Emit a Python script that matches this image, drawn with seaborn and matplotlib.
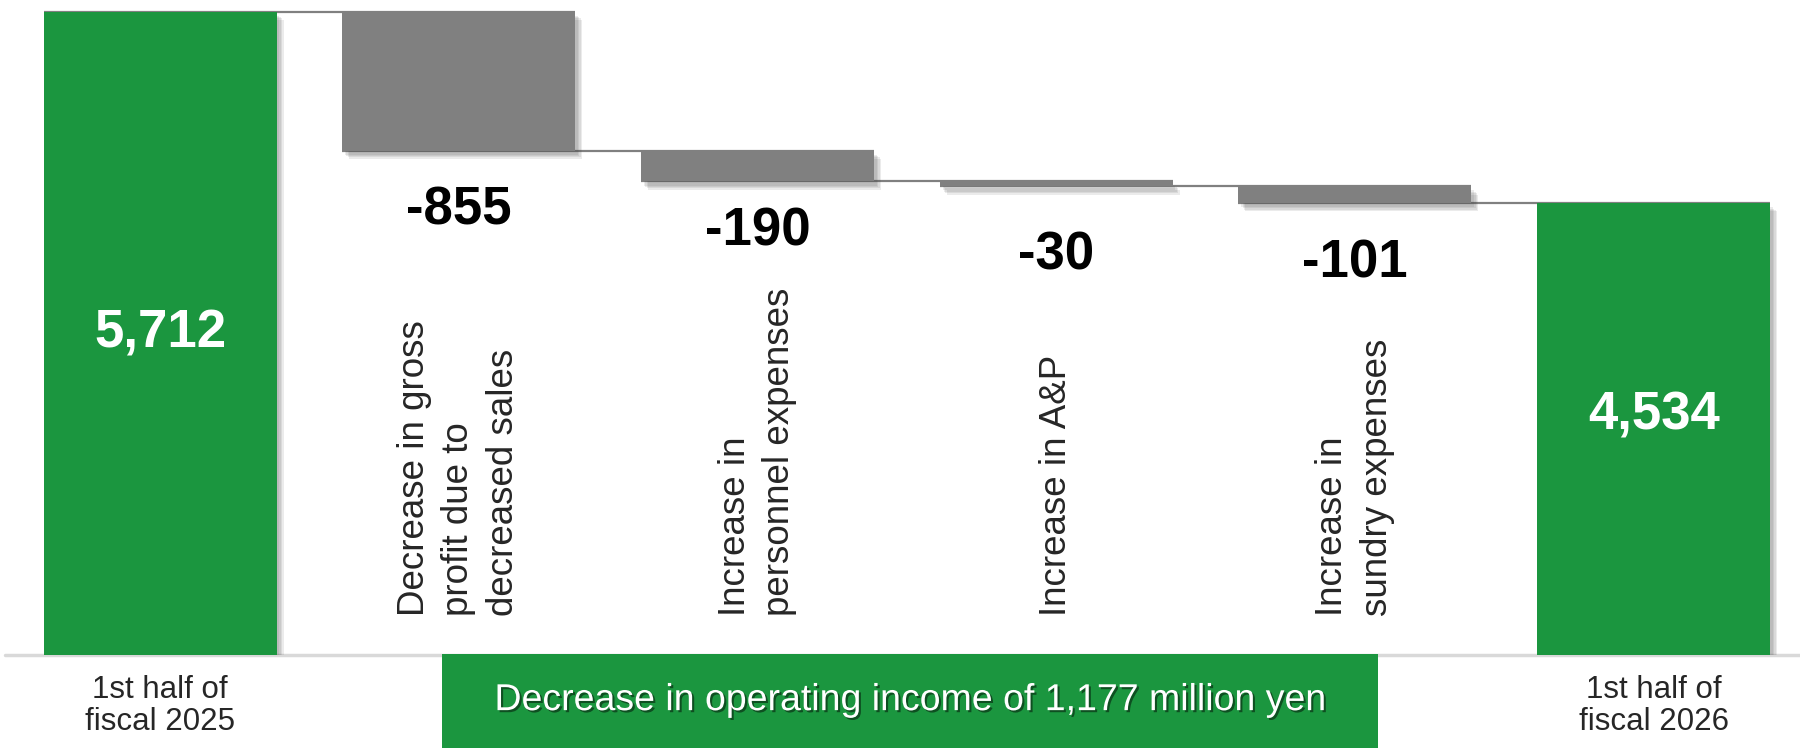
import matplotlib
matplotlib.use("Agg")
import matplotlib.pyplot as plt
import matplotlib.patheffects as pe
import matplotlib.transforms as mtransforms
from matplotlib.patches import Rectangle
import seaborn as sns
import numpy as np
import pandas as pd

# chart data (million yen)
steps = ["1st half of\nfiscal 2025",
         "Decrease in gross\nprofit due to\ndecreased sales",
         "Increase in\npersonnel expenses",
         "Increase in A&P",
         "Increase in\nsundry expenses",
         "1st half of\nfiscal 2026"]
amounts = [5712, -855, -190, -30, -101, 4534]
kinds = ["total", "change", "change", "change", "change", "total"]
value_labels = ["5,712", "-855", "-190", "-30", "-101", "4,534"]
banner_text = "Decrease in operating income of 1,177 million yen"

GREEN = "#1b963f"
GREY = "#808080"

sns.set_theme(style="white")
plt.rcParams["font.family"] = ["Liberation Sans", "DejaVu Sans"]

# waterfall bottoms / running totals
bottoms, running = [], []
level = 0
for amt, kind in zip(amounts, kinds):
    if kind == "total":
        bottoms.append(0)
        level = amt
    else:
        bottoms.append(level)
        level = level + amt
    running.append(level)

df = pd.DataFrame({"step": steps, "height": amounts, "kind": kinds})

fig = plt.figure(figsize=(18, 7.48), dpi=100)
ax = fig.add_axes([0, 0.1237, 1, 0.8763])

width = 0.78
sns.barplot(data=df, x="step", y="height", order=steps, bottom=bottoms,
            color=GREY, width=width, errorbar=None, saturation=1, ax=ax,
            zorder=2)
# soft-ish drop shadow
shadow = [pe.SimplePatchShadow(offset=(o, -o - 1), shadow_rgbFace="#404040", alpha=0.10)
          for o in (5, 4, 3, 2)] + [pe.Normal()]
for patch, kind in zip(ax.patches, kinds):
    patch.set_facecolor(GREEN if kind == "total" else GREY)
    patch.set_edgecolor("none")
    patch.set_path_effects(shadow)

ymin = 1751
ax.set_ylim(ymin, 5783)
ax.set_xlim(-0.536, 5.49)
ax.set_xticks([])
ax.set_yticks([])
ax.set_xlabel("")
ax.set_ylabel("")
sns.despine(ax=ax, left=True, bottom=True)

# connectors
for i in range(len(steps) - 1):
    ax.hlines(running[i], i - width / 2, i + 1 + width / 2, color=GREY, lw=1.6, zorder=1)

# baseline
ax.axhline(ymin, xmin=0.003, color="#d9d9d9", lw=2.5, zorder=1, clip_on=False)

blend = mtransforms.blended_transform_factory(ax.transData, ax.transAxes)

# value labels (offset in pixels below the bar end / from the bar middle)
drops = [0, 60, 50, 69, 61, -14]
for i, (kind, lab) in enumerate(zip(kinds, value_labels)):
    if kind == "total":
        ax.annotate(lab, (i, (amounts[i] + ymin) / 2), xytext=(0, -drops[i]),
                    textcoords="offset pixels", ha="center", va="center",
                    color="white", fontsize=38, fontweight="bold")
    else:
        ax.annotate(lab, (i, running[i]), xytext=(0, -drops[i]), textcoords="offset pixels",
                    ha="center", va="center", color="black", fontsize=38,
                    fontweight="bold")

# category labels
for i, (kind, lab) in enumerate(zip(kinds, steps)):
    if kind == "total":
        ax.text(i, -0.077, lab, transform=blend, ha="center", va="center",
                fontsize=22.5, linespacing=1.1, clip_on=False)
    else:
        ax.text(i, 0.0595, lab, transform=blend, rotation=90, ha="center", va="bottom",
                multialignment="left", fontsize=26.5, linespacing=1.35)

# banner
fig.patches.append(Rectangle((0.2456, 0), 0.52, 0.1257, transform=fig.transFigure,
                             facecolor=GREEN, edgecolor="none", zorder=0))
fig.text(0.5056, 0.064, banner_text, ha="center", va="center", color="white",
         fontsize=27,
         path_effects=[pe.SimplePatchShadow(offset=(1.5, -1.5), shadow_rgbFace="#0b3d1a", alpha=0.8),
                       pe.Normal()])

fig.savefig("out.png", dpi=100, facecolor="white")
